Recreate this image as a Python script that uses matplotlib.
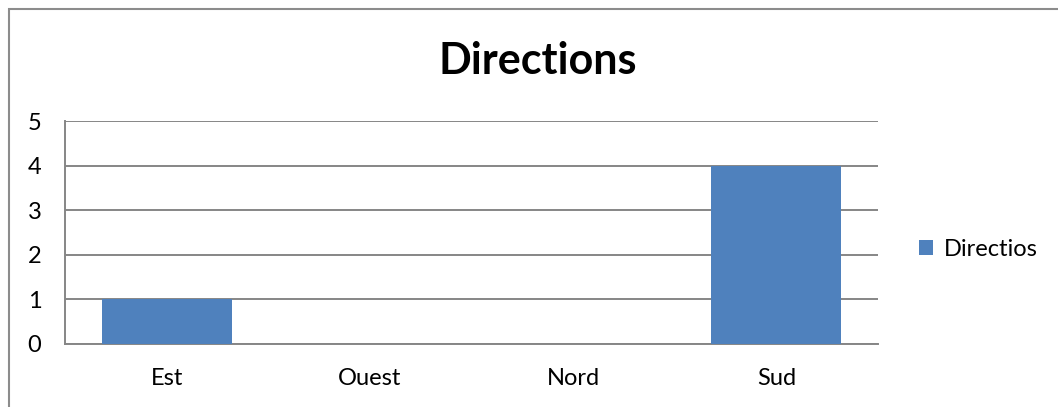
import matplotlib.pyplot as plt
from matplotlib.patches import Rectangle

categories = ['Est', 'Ouest', 'Nord', 'Sud']
values = [1, 0, 0, 4]
series_name = 'Directios'
title = 'Directions'

plt.rcParams['font.family'] = ['Lato', 'DejaVu Sans']

fig = plt.figure(figsize=(10.58, 4.07), dpi=100)
ax = fig.add_axes([0.0614, 0.1548, 0.8299 - 0.0614, 0.7027 - 0.1548])

# outer chart border
fig.patches.append(Rectangle((0.0085, -0.1), 1.1, 0.978 + 0.1, transform=fig.transFigure,
                             fill=False, edgecolor='#8c8c8c', linewidth=1.5))

x = range(len(categories))
ax.bar(x, values, width=0.64, color='#4f81bd', label=series_name, zorder=3)

ax.set_xlim(-0.5, len(categories) - 0.5)
ax.set_ylim(0, 5)
ax.set_yticks(range(6))
ax.set_xticks(list(x))
ax.set_xticklabels(categories)
ax.yaxis.grid(True, color='#868686', linewidth=1.4, zorder=0)
ax.tick_params(length=0, labelsize=17, colors='black')
ax.tick_params(axis='y', pad=17)
ax.tick_params(axis='x', pad=17)
for s in ['top', 'right']:
    ax.spines[s].set_visible(False)
for s in ['left', 'bottom']:
    ax.spines[s].set_color('#868686')
    ax.spines[s].set_linewidth(1.4)

fig.text(0.508, 0.85, title, ha='center', va='center', fontsize=31, fontweight='bold')

ax.legend(loc='center left', bbox_to_anchor=(1.024, 0.426), frameon=False, fontsize=17,
          handlelength=0.6, handleheight=0.6, handletextpad=0.45)

fig.savefig('out.png', dpi=100)
